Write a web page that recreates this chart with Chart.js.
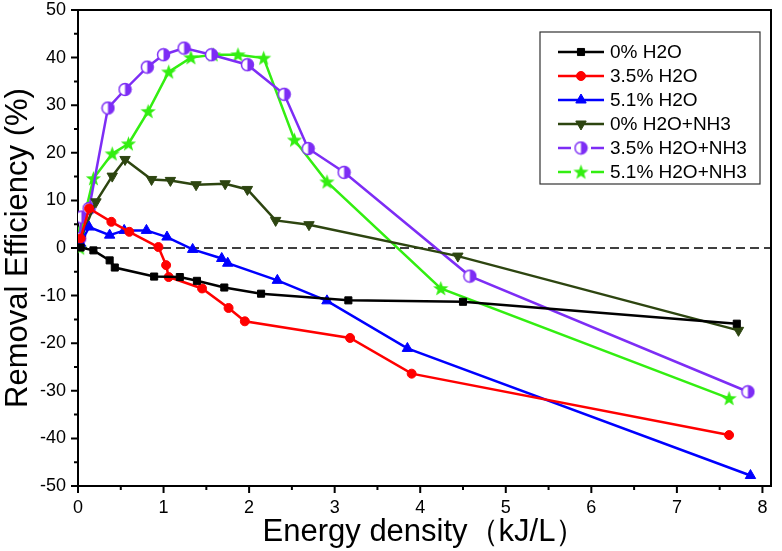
<!DOCTYPE html>
<html lang="en">
  <head>
    <meta charset="UTF-8" />
    <title>Removal Efficiency vs Energy density</title>
    <script src="https://cdn.jsdelivr.net/npm/chart.js"></script>
    <style>
      body {
        margin: 0;
        background: #fff;
      }
      canvas {
        display: block;
      }
    </style>
  </head>
  <body>
    <canvas id="effChart" width="782" height="551"></canvas>

    <script>
      // Energy density (kJ/L) and removal efficiency (%) for each run
      const h2o0X = [0.03, 0.18, 0.37, 0.43, 0.89, 1.19, 1.39, 1.71, 2.14, 3.16, 4.5, 7.7];
      const h2o0Y = [0.1, -0.5, -2.6, -4.1, -6.0, -6.1, -6.9, -8.3, -9.6, -11.0, -11.3, -15.9];

      const h2o35X = [0.03, 0.13, 0.39, 0.6, 0.94, 1.03, 1.06, 1.45, 1.76, 1.95, 3.18, 3.9, 7.61];
      const h2o35Y = [2.0, 8.3, 5.5, 3.4, 0.2, -3.6, -6.1, -8.5, -12.6, -15.4, -18.9, -26.4, -39.3];

      const h2o51X = [0.03, 0.13, 0.37, 0.54, 0.8, 1.04, 1.34, 1.68, 1.75, 2.33, 2.91, 3.85, 7.86];
      const h2o51Y = [1.0, 4.4, 2.7, 3.7, 3.7, 2.3, -0.3, -2.2, -3.2, -6.8, -11.1, -21.1, -47.8];

      const nh3X = [0.03, 0.21, 0.4, 0.55, 0.86, 1.08, 1.38, 1.72, 1.98, 2.31, 2.7, 4.44, 7.72];
      const nh3Y = [2.0, 9.7, 15.1, 18.6, 14.4, 14.2, 13.3, 13.5, 12.3, 5.8, 4.9, -1.7, -17.3];

      const nh3h35X = [0.02, 0.04, 0.13, 0.35, 0.55, 0.81, 1.0, 1.24, 1.56, 1.98, 2.41, 2.69, 3.11, 4.58, 7.83];
      const nh3h35Y = [2.0, 6.5, 8.3, 29.4, 33.3, 38.0, 40.6, 42.0, 40.6, 38.5, 32.3, 20.9, 15.9, -5.9, -30.2];

      const nh3h51X = [0.02, 0.04, 0.18, 0.4, 0.59, 0.82, 1.06, 1.32, 1.58, 1.87, 2.17, 2.53, 2.91, 4.24, 7.61];
      const nh3h51Y = [0.0, 4.0, 14.6, 19.8, 21.9, 28.7, 37.0, 40.0, 40.6, 40.6, 39.9, 22.7, 13.9, -8.5, -31.6];

      const seriesNames = [
        "0% H2O",
        "3.5% H2O",
        "5.1% H2O",
        "0% H2O+NH3",
        "3.5% H2O+NH3",
        "5.1% H2O+NH3",
      ];

      const FONT = '"Liberation Sans", Arial, sans-serif';

      // half filled circle marker (left white, right purple)
      function halfCircle(color) {
        const c = document.createElement("canvas");
        c.width = 15;
        c.height = 15;
        const g = c.getContext("2d");
        g.beginPath();
        g.arc(7.5, 7.5, 6, 0, Math.PI * 2);
        g.fillStyle = "#fff";
        g.fill();
        g.beginPath();
        g.arc(7.5, 7.5, 6, -Math.PI / 2, Math.PI / 2);
        g.closePath();
        g.fillStyle = color;
        g.fill();
        g.beginPath();
        g.arc(7.5, 7.5, 6, 0, Math.PI * 2);
        g.lineWidth = 1.5;
        g.strokeStyle = color;
        g.stroke();
        return c;
      }

      // filled five point star marker
      function starMark(color) {
        const c = document.createElement("canvas");
        c.width = 17;
        c.height = 17;
        const g = c.getContext("2d");
        g.beginPath();
        for (let i = 0; i < 10; i++) {
          const r = i % 2 === 0 ? 8 : 3.3;
          const a = -Math.PI / 2 + (i * Math.PI) / 5;
          const px = 8.5 + r * Math.cos(a);
          const py = 9 + r * Math.sin(a);
          if (i === 0) g.moveTo(px, py);
          else g.lineTo(px, py);
        }
        g.closePath();
        g.fillStyle = color;
        g.fill();
        return c;
      }

      function toPoints(xs, ys) {
        return xs.map((x, i) => ({ x: x, y: ys[i] }));
      }

      const purple = "#7d2df5";
      const lime = "#33ee11";

      const datasets = [
        { data: toPoints(h2o0X, h2o0Y), color: "#000000", pointStyle: "rect", radius: 5 },
        { data: toPoints(h2o35X, h2o35Y), color: "#ff0000", pointStyle: "circle", radius: 4.5 },
        { data: toPoints(h2o51X, h2o51Y), color: "#0000ff", pointStyle: "triangle", radius: 6 },
        { data: toPoints(nh3X, nh3Y), color: "#2d4510", pointStyle: "triangle", radius: 6, rotation: 180 },
        { data: toPoints(nh3h35X, nh3h35Y), color: purple, pointStyle: halfCircle(purple), radius: 7, gap: true },
        { data: toPoints(nh3h51X, nh3h51Y), color: lime, pointStyle: starMark(lime), radius: 8, gap: true },
      ].map((s, i) => ({
        label: seriesNames[i],
        data: s.data,
        borderColor: s.color,
        backgroundColor: s.color,
        borderWidth: 2.5,
        legendGap: !!s.gap,
        pointStyle: s.pointStyle,
        pointRadius: s.radius,
        pointRotation: s.rotation || 0,
        pointBackgroundColor: s.color,
        pointBorderColor: s.color,
        pointBorderWidth: 1,
        tension: 0,
        fill: false,
      }));

      // frame on top/right, outward ticks (major and minor), dashed zero line
      const framePlugin = {
        id: "frame",
        beforeDatasetsDraw(chart) {
          const { ctx, chartArea, scales } = chart;
          const y0 = scales.y.getPixelForValue(0);
          ctx.save();
          ctx.strokeStyle = "#000";
          ctx.lineWidth = 1.5;
          ctx.setLineDash([9, 5]);
          ctx.beginPath();
          ctx.moveTo(chartArea.left, y0);
          ctx.lineTo(chartArea.right, y0);
          ctx.stroke();
          ctx.restore();
        },
        afterDraw(chart) {
          const { ctx, chartArea, scales } = chart;
          ctx.save();
          ctx.strokeStyle = "#000";
          ctx.lineWidth = 2;
          ctx.beginPath();
          ctx.moveTo(chartArea.left, chartArea.top);
          ctx.lineTo(chartArea.right, chartArea.top);
          ctx.lineTo(chartArea.right, chartArea.bottom);
          ctx.stroke();

          ctx.beginPath();
          scales.x.ticks.forEach((t) => {
            const px = scales.x.getPixelForValue(t.value);
            const len = t.value % 1 === 0 ? 7 : 4;
            ctx.moveTo(px, chartArea.bottom);
            ctx.lineTo(px, chartArea.bottom + len);
          });
          scales.y.ticks.forEach((t) => {
            const py = scales.y.getPixelForValue(t.value);
            const len = t.value % 10 === 0 ? 7 : 4;
            ctx.moveTo(chartArea.left, py);
            ctx.lineTo(chartArea.left - len, py);
          });
          ctx.stroke();
          ctx.restore();
        },
      };

      // legend box inside the plot, top right
      const legendPlugin = {
        id: "boxLegend",
        afterDraw(chart) {
          const { ctx, chartArea } = chart;
          const right = chartArea.right - 11;
          const left = right - 220;
          const top = chartArea.top + 22;
          const rowH = 24;
          const n = chart.data.datasets.length;
          const bottom = top + 20 + rowH * (n - 1) + 12;
          ctx.save();
          ctx.fillStyle = "#fff";
          ctx.fillRect(left, top, right - left, bottom - top);
          ctx.strokeStyle = "#333";
          ctx.lineWidth = 1.2;
          ctx.strokeRect(left, top, right - left, bottom - top);

          chart.data.datasets.forEach((ds, i) => {
            const cy = top + 20 + i * rowH;
            const x1 = left + 18;
            const x2 = left + 64;
            const mid = (x1 + x2) / 2;
            ctx.strokeStyle = ds.borderColor;
            ctx.lineWidth = 2.5;
            ctx.beginPath();
            if (ds.legendGap) {
              ctx.moveTo(x1, cy);
              ctx.lineTo(mid - 10, cy);
              ctx.moveTo(mid + 10, cy);
              ctx.lineTo(x2, cy);
            } else {
              ctx.moveTo(x1, cy);
              ctx.lineTo(x2, cy);
            }
            ctx.stroke();
            ctx.fillStyle = ds.pointBackgroundColor;
            ctx.strokeStyle = ds.pointBorderColor;
            ctx.lineWidth = 1;
            Chart.helpers.drawPoint(ctx, {
              pointStyle: ds.pointStyle,
              radius: ds.pointRadius,
              rotation: ds.pointRotation,
              borderWidth: 1,
            }, mid, cy);
            ctx.fillStyle = "#000";
            ctx.font = "19px " + FONT;
            ctx.textBaseline = "middle";
            ctx.textAlign = "left";
            ctx.fillText(ds.label, x2 + 6, cy + 1);
          });
          ctx.restore();
        },
      };

      const tickFont = { family: FONT, size: 18 };
      const titleFont = { family: FONT, size: 31 };

      new Chart(document.getElementById("effChart").getContext("2d"), {
        type: "line",
        data: { datasets: datasets },
        plugins: [framePlugin, legendPlugin],
        options: {
          responsive: false,
          animation: false,
          layout: { padding: { top: 10, right: 11, left: 0, bottom: 0 } },
          plugins: {
            legend: { display: false },
            tooltip: { enabled: false },
          },
          scales: {
            x: {
              type: "linear",
              min: 0,
              max: 8.1,
              afterFit: (scale) => {
                scale.height = 65;
                scale.paddingLeft = 0;
                scale.paddingRight = 0;
              },
              ticks: {
                stepSize: 0.5,
                autoSkip: false,
                includeBounds: false,
                maxRotation: 0,
                padding: 4,
                color: "#000",
                font: tickFont,
                callback: (v) => (v % 1 === 0 ? v : ""),
              },
              grid: {
                display: true,
                drawOnChartArea: false,
                tickLength: 7,
                tickColor: "rgba(0,0,0,0)",
              },
              border: { display: true, color: "#000", width: 2 },
              title: {
                display: true,
                text: "Energy density（kJ/L）",
                color: "#000",
                font: { ...titleFont, lineHeight: 1.2 },
                padding: { top: 0, bottom: 0 },
              },
            },
            y: {
              type: "linear",
              min: -50,
              max: 50,
              afterFit: (scale) => {
                scale.width = 78;
                scale.paddingTop = 0;
                scale.paddingBottom = 0;
              },
              ticks: {
                stepSize: 5,
                autoSkip: false,
                padding: 5,
                color: "#000",
                font: tickFont,
                callback: (v) => (v % 10 === 0 ? v : ""),
              },
              grid: {
                display: true,
                drawOnChartArea: false,
                tickLength: 7,
                tickColor: "rgba(0,0,0,0)",
              },
              border: { display: true, color: "#000", width: 2 },
              title: {
                display: true,
                text: "Removal Efficiency (%)",
                color: "#000",
                font: { ...titleFont, lineHeight: 1.2 },
                padding: { top: 0, bottom: 0 },
              },
            },
          },
        },
      });
    </script>
  </body>
</html>
